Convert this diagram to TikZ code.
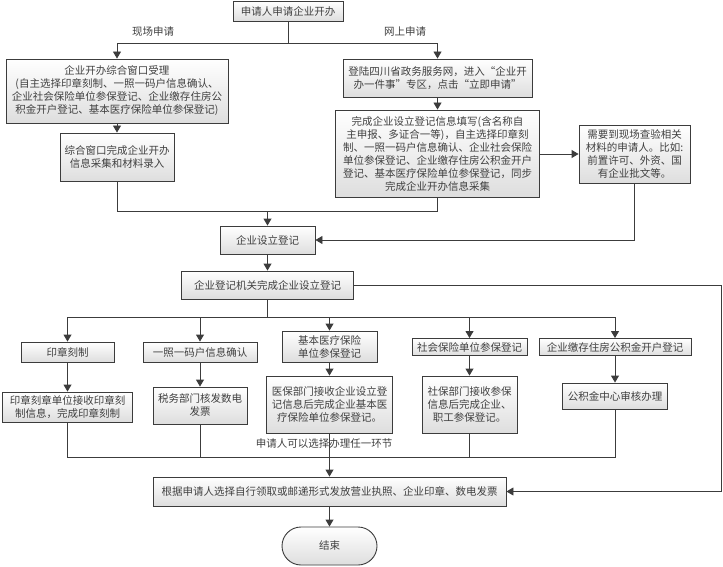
\documentclass[tikz,border=0pt]{standalone}
\usepackage{fontspec}
\setmainfont{Noto Sans CJK SC}
\usetikzlibrary{arrows.meta,shapes.misc}
\definecolor{lc}{HTML}{3C3C3C}
\definecolor{tc}{HTML}{404040}
\tikzset{
  box/.style={draw=lc, line width=0.9pt, top color=white, bottom color=black!13,
    align=center, inner sep=0pt, text=tc, font=\fontsize{10.5}{13}\selectfont},
  B/.style 2 args={minimum width=#1pt, minimum height=#2pt},
  ln/.style={draw=lc, line width=0.9pt},
  arr/.style={ln, -{Triangle[length=7pt,width=8pt]}},
  lab/.style={text=tc, font=\fontsize{10.5}{13}\selectfont, inner sep=0pt},
  endbox/.style={box, rounded rectangle}
}
\begin{document}
\begin{tikzpicture}[x=1pt,y=-1pt]
\useasboundingbox (0,0) rectangle (723,567);
\fill[white] (0,0) rectangle (723,567);

\node[box,B={110}{20}] (start) at (288,11) {申请人申请企业开办};
\node[lab] (l1) at (153,32) {现场申请};
\node[lab] (l2) at (405,32) {网上申请};

\node[box,B={222}{64}] (A) at (117,91) {企业开办综合窗口受理\\(自主选择印章刻制、一照一码户信息确认、\\企业社会保险单位参保登记、企业缴存住房公\\积金开户登记、基本医疗保险单位参保登记)};
\node[box,B={114}{48}] (Bx) at (117,157) {综合窗口完成企业开办\\信息采集和材料录入};

\node[box,B={189}{38}] (C) at (437.5,78) {登陆四川省政务服务网，进入“企业开\\办一件事”专区，点击“立即申请”};
\node[box,B={204}{87}] (D) at (437.5,153.5) {完成企业设立登记信息填写(含名称自\\主申报、多证合一等)，自主选择印章刻\\制、一照一码户信息确认、企业社会保险\\单位参保登记、企业缴存住房公积金开户\\登记、基本医疗保险单位参保登记，同步\\完成企业开办信息采集};
\node[box,B={111}{58}] (E) at (634.5,154) {需要到现场查验相关\\材料的申请人。比如:\\前置许可、外资、国\\有企业批文等。};

\node[box,B={95}{28}] (F) at (267.5,240) {企业设立登记};
\node[box,B={172}{28}] (G) at (267.5,285) {企业登记机关完成企业设立登记};

\node[box,B={93}{20}] (H1) at (67.5,352) {印章刻制};
\node[box,B={114}{20}] (H2) at (200,352) {一照一码户信息确认};
\node[box,B={95}{31}] (H3) at (329.5,346.5) {基本医疗保险\\单位参保登记};
\node[box,B={115}{17}] (H4) at (469.5,347) {社会保险单位参保登记};
\node[box,B={152}{17}] (H5) at (615,347) {企业缴存住房公积金开户登记};

\node[box,B={130}{30}] (I1) at (67.5,407) {印章刻章单位接收印章刻\\制信息，完成印章刻制};
\node[box,B={94}{37}] (I2) at (200,405.5) {税务部门核发数电\\发票};
\node[box,B={126}{57}] (I3) at (329.5,404.5) {医保部门接收企业设立登\\记信息后完成企业基本医\\疗保险单位参保登记。};
\node[box,B={95}{57}] (I4) at (469.5,404.5) {社保部门接收参保\\信息后完成企业、\\职工参保登记。};
\node[box,B={105}{26}] (I5) at (615,396) {公积金中心审核办理};

\node[box,B={353}{29}] (J) at (329.5,491.5) {根据申请人选择自行领取或邮递形式发放营业执照、企业印章、数电发票};
\node[endbox,B={95}{38}] (K) at (329.5,546) {结束};

% top split
\path (start.south) ++(0,22) coordinate (s2);
\draw[arr] (start.south) -- (s2) -| (A.north);
\draw[arr] (s2) -| (C.north);
\draw[arr] (A.south) -- (Bx.north);
\draw[arr] (C.south) -- (D.north);
\draw[arr] (D.east |- E.west) -- (E.west);

% merge to F
\path (Bx.south) ++(0,30) coordinate (b2);
\coordinate (j2) at (F.north |- b2);
\draw[arr] (Bx.south) -- (b2) -- (j2) -- (F.north);
\draw[ln] (D.south) |- (j2);
\draw[arr] (E.south) |- (F.east);
\draw[arr] (F.south) -- (G.north);

% right bypass
\path (G.east) ++(367,0) coordinate (g3);
\draw[arr] (G.east) -- (g3) |- (J.east);

% branches
\path (G.south) ++(0,18) coordinate (g2);
\draw[ln] (G.south) -- (g2);
\draw[ln] (H1.north |- g2) -- (H5.north |- g2);
\foreach \n in {H1,H2,H3,H4,H5} {\draw[arr] (\n.north |- g2) -- (\n.north);}
\draw[arr] (H1.south) -- (I1.north);
\draw[arr] (H2.south) -- (I2.north);
\draw[arr] (H3.south) -- (I3.north);
\draw[arr] (H4.south) -- (I4.north);
\draw[arr] (H5.south) -- (I5.north);

% collect
\coordinate (cy) at (0,457);
\draw[ln] (I1.south) -- (I1.south |- cy) -- (I5.south |- cy) -- (I5.south);
\draw[ln] (I2.south) -- (I2.south |- cy);
\draw[ln] (I4.south) -- (I4.south |- cy);
\draw[arr] (I3.south) -- (J.north);
\node[lab] (note) at (324,444) {申请人可以选择办理任一环节};
\draw[arr] (J.south) -- (K.north);
\end{tikzpicture}
\end{document}
